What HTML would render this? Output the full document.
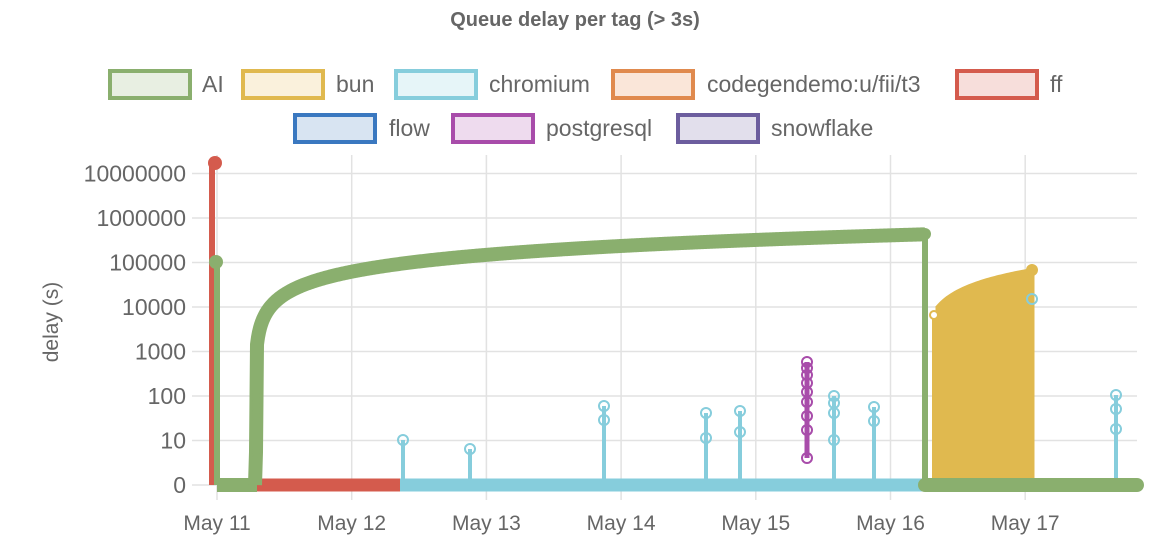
<!DOCTYPE html>
<html><head><meta charset="utf-8"><style>
body{margin:0;background:#fff;font-family:"Liberation Sans",sans-serif}
svg text{font-family:"Liberation Sans",sans-serif}
</style></head><body>
<svg id="s" width="1150" height="552" xmlns="http://www.w3.org/2000/svg">
<text x="575" y="26" text-anchor="middle" font-size="20" font-weight="bold" fill="#666">Queue delay per tag (&gt; 3s)</text>
<g font-size="23" fill="#666">
<rect x="110" y="71" width="80" height="27" fill="#e8efe2" stroke="#8aaf6e" stroke-width="4"/><text x="202" y="92">AI</text>
<rect x="243" y="71" width="80" height="27" fill="#faf1dc" stroke="#e0b94f" stroke-width="4"/><text x="336" y="92">bun</text>
<rect x="396" y="71" width="80" height="27" fill="#e6f5f8" stroke="#86cddc" stroke-width="4"/><text x="489" y="92">chromium</text>
<rect x="613" y="71" width="80" height="27" fill="#fae6d9" stroke="#e08a4e" stroke-width="4"/><text x="707" y="92">codegendemo:u/fii/t3</text>
<rect x="957" y="71" width="80" height="27" fill="#f7dedb" stroke="#d45b4d" stroke-width="4"/><text x="1050" y="92">ff</text>
<rect x="295" y="115" width="80" height="27" fill="#d8e4f2" stroke="#3a78c0" stroke-width="4"/><text x="389" y="136">flow</text>
<rect x="453" y="115" width="80" height="27" fill="#eedbee" stroke="#a84caa" stroke-width="4"/><text x="546" y="136">postgresql</text>
<rect x="678" y="115" width="80" height="27" fill="#e2dfec" stroke="#6c5d9e" stroke-width="4"/><text x="771" y="136">snowflake</text>
</g>
<g id="grid" stroke="#e2e2e2" stroke-width="1.5"></g>
<g id="ylab" font-size="23" fill="#666" text-anchor="end"></g>
<text transform="translate(58,322) rotate(-90)" text-anchor="middle" font-size="21" fill="#666">delay (s)</text>
<g id="xlab" font-size="21" fill="#666" text-anchor="middle"></g>
<g id="data"></g>
</svg>
<script>
var NS="http://www.w3.org/2000/svg";
function el(p,t,a,txt){var e=document.createElementNS(NS,t);for(var k in a)e.setAttribute(k,a[k]);if(txt!=null)e.textContent=txt;document.getElementById(p).appendChild(e);return e;}
function Y(v){return v<=1?485:485-44.5*Math.log10(v);}
var yl=["0","10","100","1000","10000","100000","1000000","10000000"];
for(var i=0;i<8;i++){var y=485-44.5*i;el("grid","line",{x1:192,x2:1137,y1:y,y2:y});el("ylab","text",{x:186,y:y+8},yl[i]);}
for(var i=0;i<7;i++){var x=217+134.7*i;el("grid","line",{x1:x,x2:x,y1:155,y2:500});el("xlab","text",{x:x,y:530},"May "+(11+i));}
var G="#8aaf6e",Yc="#e0b94f",C="#86cddc",R="#d45b4d",P="#a84caa";
// red
el("data","line",{x1:212,y1:163,x2:212,y2:485,stroke:R,"stroke-width":6});
el("data","circle",{cx:215,cy:163,r:7,fill:R});
el("data","line",{x1:217,y1:485,x2:402,y2:485,stroke:R,"stroke-width":13});
// yellow
var d="M937,485 L937,306";
for(var x=937;x<=1033;x+=2){d+=" L"+x+","+Y((x-925+4)*625);}
d+=" L1033,485Z";
el("data","path",{d:d,fill:Yc,stroke:Yc,"stroke-width":3});
el("data","circle",{cx:1032,cy:270,r:6,fill:Yc});
el("data","line",{x1:934,y1:316,x2:934,y2:485,stroke:Yc,"stroke-width":4});
el("data","circle",{cx:934,cy:315,r:4,fill:"#fff",stroke:Yc,"stroke-width":2});
// chromium
el("data","line",{x1:400,y1:485,x2:925,y2:485,stroke:C,"stroke-width":13});
var stems=[[403,[440]],[470,[449]],[604,[406,420]],[706,[413,438]],[740,[411,432]],[834,[396,403,413,440]],[874,[407,421]],[1116,[395,409,429]],[1032,[299]]];
stems.forEach(function(s){if(s[0]!=1032)el("data","line",{x1:s[0],y1:Math.min.apply(0,s[1]),x2:s[0],y2:485,stroke:C,"stroke-width":4});
s[1].forEach(function(y){el("data","circle",{cx:s[0],cy:y,r:5,fill:"none",stroke:C,"stroke-width":2});});});
// purple
el("data","line",{x1:807,y1:362,x2:807,y2:458,stroke:P,"stroke-width":5});
[362,368,375,383,392,402,416,430,458].forEach(function(y){el("data","circle",{cx:807,cy:y,r:5,fill:"none",stroke:P,"stroke-width":2});});
// green
el("data","line",{x1:217,y1:262,x2:217,y2:485,stroke:G,"stroke-width":6});
el("data","circle",{cx:216,cy:262,r:7,fill:G});
el("data","line",{x1:217,y1:485,x2:257,y2:485,stroke:G,"stroke-width":14});
var g="M255,485 L256,452";
for(var x=257;x<=925;x+=1){g+=" L"+x+","+Y((x-256)/134.7*86400+800);}
el("data","path",{d:g,fill:"none",stroke:G,"stroke-width":14,"stroke-linejoin":"round"});
[452,416,406,396].forEach(function(y){el("data","circle",{cx:256,cy:y,r:5,fill:"none",stroke:G,"stroke-width":2});});
el("data","circle",{cx:925,cy:234,r:6,fill:G});
el("data","line",{x1:925,y1:234,x2:925,y2:485,stroke:G,"stroke-width":6});
el("data","line",{x1:925,y1:485,x2:1137,y2:485,stroke:G,"stroke-width":14,"stroke-linecap":"round"});
</script>
</body></html>
